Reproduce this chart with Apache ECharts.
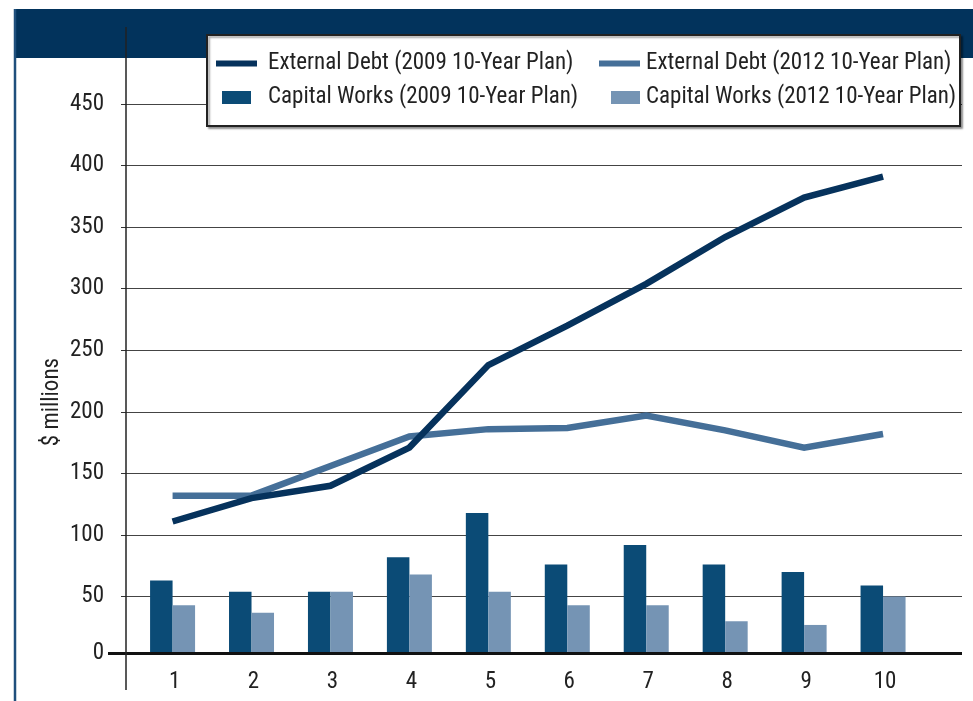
<!DOCTYPE html>
<html>
<head>
<meta charset="utf-8">
<script src="https://cdn.jsdelivr.net/npm/echarts@6/dist/echarts.min.js"></script>
<style>
  html, body { margin: 0; padding: 0; background: #fff; }
  #main { width: 973px; height: 701px; }
</style>
</head>
<body>
<div id="main"></div>
<script>
// 10-year plan, $ millions
var years = [1, 2, 3, 4, 5, 6, 7, 8, 9, 10];
var debt2009 = [111, 130, 140, 171, 238, 270, 304, 342, 374, 391];
var debt2012 = [132, 132, 156, 180, 186, 187, 197, 185, 171, 182];
var works2009 = [63, 54, 54, 82, 118, 76, 92, 76, 70, 59];
var works2012 = [43, 37, 54, 68, 54, 43, 43, 30, 27, 50];
// "0" label sits on the heavy base line, a little above the true zero
var yTicks = [3.8, 50, 100, 150, 200, 250, 300, 350, 400, 450];

var names = [
    'External Debt (2009 10-Year Plan)',
    'External Debt (2012 10-Year Plan)',
    'Capital Works (2009 10-Year Plan)',
    'Capital Works (2012 10-Year Plan)'
];
var colors = ['#06325c', '#456f98', '#0b4b76', '#7594b4'];
var font = '"Roboto Condensed", "Liberation Sans Narrow", Roboto, sans-serif';

function pairs(vals) {
    var out = [];
    for (var i = 0; i < years.length; i++) {
        out.push([years[i], vals[i]]);
    }
    return out;
}

function legendItem(name, left, top, w, h, gap) {
    return {
        data: [name],
        left: left,
        top: top,
        padding: 0,
        icon: 'rect',
        itemWidth: w,
        itemHeight: h,
        selectedMode: false,
        textStyle: { fontFamily: font, fontSize: 23, color: '#222', padding: [0, 0, 0, gap] }
    };
}

var myChart = echarts.init(document.getElementById('main'));

myChart.setOption({
    animation: false,
    backgroundColor: '#fff',
    grid: { left: 126, right: 11, top: 104, bottom: 42.8 },
    legend: [
        legendItem(names[0], 216, 52, 41, 6, 6),
        legendItem(names[1], 599, 52, 41, 6, 1),
        legendItem(names[2], 222, 86, 29, 13, 12),
        legendItem(names[3], 611, 86, 29, 13, 1)
    ],
    xAxis: {
        type: 'value',
        min: 0.41,
        max: 11.0,
        axisLine: { show: false },
        axisTick: { show: false },
        splitLine: { show: false },
        axisLabel: {
            customValues: years,
            margin: 13,
            padding: [0, 0, 0, 4],
            fontFamily: font,
            fontSize: 23,
            color: '#222',
            formatter: function (v) { return String(Math.round(v)); }
        }
    },
    yAxis: {
        type: 'value',
        min: 0,
        max: 450,
        interval: 50,
        name: '$ millions',
        nameLocation: 'middle',
        nameGap: 62,
        nameMoveOverlap: false,
        nameTextStyle: { fontFamily: font, fontSize: 23, color: '#222', padding: [0, 42, 0, 0] },
        axisLine: { show: false },
        axisTick: { show: true, length: 5, lineStyle: { color: '#333', width: 1 } },
        splitLine: { show: true, lineStyle: { color: '#444', width: 1 } },
        axisLabel: {
            customValues: yTicks,
            margin: 22,
            fontFamily: font,
            fontSize: 23,
            color: '#222',
            formatter: function (v) { return String(Math.round(v / 50) * 50); }
        }
    },
    graphic: [
        // header band
        { type: 'rect', z: 0, shape: { x: 14, y: 9, width: 959, height: 49 }, style: { fill: '#02335c' } },
        // left border
        { type: 'line', z: 1, shape: { x1: 15, y1: 9, x2: 15, y2: 701 }, style: { stroke: '#1f4f7c', lineWidth: 2.5 } },
        // white strip under the base line
        { type: 'rect', z: 9, shape: { x: 108, y: 654, width: 855, height: 6 }, style: { fill: '#fff' } },
        // vertical axis line
        { type: 'line', z: 11, shape: { x1: 126, y1: 27, x2: 126, y2: 690 }, style: { stroke: '#222', lineWidth: 1.5 } },
        // heavy base line
        { type: 'line', z: 10, shape: { x1: 108, y1: 653.5, x2: 962, y2: 653.5 }, style: { stroke: '#111', lineWidth: 3 } },
        // legend box
        {
            type: 'rect', z: 3,
            shape: { x: 207, y: 35, width: 753, height: 91 },
            style: {
                fill: '#fff', stroke: '#222', lineWidth: 2,
                shadowBlur: 2, shadowOffsetX: 2, shadowOffsetY: 2, shadowColor: 'rgba(0,0,0,0.35)'
            }
        }
    ],
    series: [
        {
            name: names[2], type: 'bar', color: colors[2],
            barWidth: 22.5, barGap: '0%',
            data: pairs(works2009)
        },
        {
            name: names[3], type: 'bar', color: colors[3],
            barWidth: 22.5, barGap: '0%',
            data: pairs(works2012)
        },
        {
            name: names[1], type: 'line', color: colors[1],
            showSymbol: false, symbol: 'none', z: 3,
            lineStyle: { width: 6.5, color: colors[1], cap: 'butt', join: 'miter' },
            data: pairs(debt2012)
        },
        {
            name: names[0], type: 'line', color: colors[0],
            showSymbol: false, symbol: 'none', z: 4,
            lineStyle: { width: 6.5, color: colors[0], cap: 'butt', join: 'miter' },
            data: pairs(debt2009)
        }
    ]
});
</script>
</body>
</html>
